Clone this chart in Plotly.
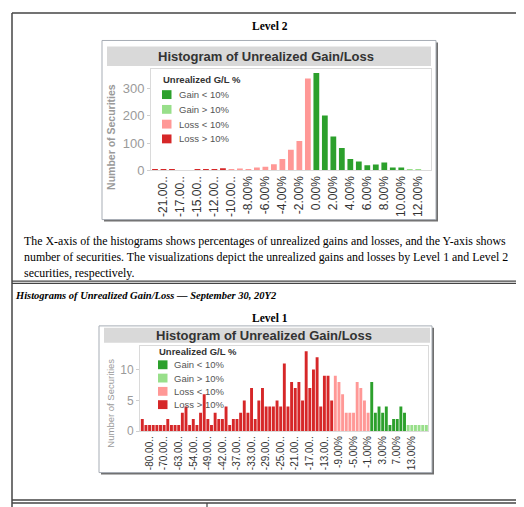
import plotly.graph_objects as go

W, H = 524, 507

# Level 2: unrealized gain/loss bins (%) and number of securities per bin
L2_BINS = [-22, -21, -18, -17, -16, -15, -13, -12, -11, -10, -9, -8, -7, -6, -5, -4,
           -3, -2, -1, 0, 1, 2, 3, 4, 5, 6, 7, 8, 9, 10, 11, 12]
L2_COUNTS = [4, 4, 4, 0, 0, 4, 4, 4, 8, 3, 7, 3, 11, 13, 23, 42,
             76, 108, 337, 357, 201, 124, 82, 42, 33, 19, 22, 29, 11, 11, 2, 2]
L2_TICKS = [-21, -17, -15, -12, -10, -8, -6, -4, -2, 0, 2, 4, 6, 8, 10, 12]
L2_YTICKS = [0, 100, 200, 300]

# Level 1
L1_BINS = [-88, -84, -80, -77, -74, -72, -70, -68, -66, -65, -63, -60, -58, -56,
           -54, -52, -51, -50, -49, -47, -45, -44, -42, -40, -39, -38,
           -37, -36, -35, -34, -33, -32, -31, -30, -29, -28, -27, -26, -25, -24,
           -23, -22, -21, -20, -19, -18, -17, -16, -15, -14, -13, -12, -11, -10,
           -9, -8, -7, -6, -5, -4, -3, -2, -1, 0, 1, 2, 3, 4, 5, 6, 7, 8, 9,
           11, 13, 15, 17, 20, 26]
L1_COUNTS = [2, 1, 1, 1, 1, 1, 1, 2, 1, 1, 1, 3, 4, 1,
             2, 1, 3, 6, 2, 1, 3, 2, 2, 4, 1, 2,
             2, 3, 5, 3, 7, 2, 5, 7, 4, 4, 4, 5, 4, 11,
             4, 8, 7, 8, 5, 13, 7, 10, 12, 4, 9, 9, 5, 9,
             8, 6, 3, 3, 3, 8, 7, 5, 3, 8, 3, 4, 3, 4, 1, 2, 2, 4, 3,
             1, 1, 1, 1, 1, 1]
L1_TICKS = [-80, -70, -63, -54, -49, -42, -37, -33, -29, -25, -21, -17, -13,
            -9, -5, -1, 3, 7, 13]
L1_YTICKS = [0, 5, 10]

GROUPS = ["Gain < 10%", "Gain > 10%", "Loss < 10%", "Loss > 10%"]
COLORS = {"Gain < 10%": "#2ca02c", "Gain > 10%": "#98df8a",
          "Loss < 10%": "#ff9896", "Loss > 10%": "#d62728"}

SERIF = "Liberation Serif"
SANS = "Liberation Sans"


def px_x(x):
    return x / W


def px_y(y):
    return 1 - y / H


def group_of(b):
    if b < -10:
        return "Loss > 10%"
    if b < 0:
        return "Loss < 10%"
    if b <= 10:
        return "Gain < 10%"
    return "Gain > 10%"


def bin_label(b):
    return f"{b:.2f}%"


def tick_label(b):
    s = bin_label(b)
    return s if len(s) <= 6 else s[:6] + ".."


def rect(x0, y0, x1, y1, **kw):
    d = dict(type="rect", xref="paper", yref="paper",
             x0=px_x(x0), x1=px_x(x1), y0=px_y(y1), y1=px_y(y0), layer="below")
    d.update(kw)
    return d


def line(x0, y0, x1, y1, color="#444", width=1.2):
    return dict(type="line", xref="paper", yref="paper",
                x0=px_x(x0), x1=px_x(x1), y0=px_y(y0), y1=px_y(y1),
                line=dict(color=color, width=width))


def text(x, y, s, size, color="#000", family=SANS, xanchor="center", angle=0, bold=False, italic=False):
    if bold:
        s = f"<b>{s}</b>"
    if italic:
        s = f"<i>{s}</i>"
    return dict(x=px_x(x), y=px_y(y), xref="paper", yref="paper", text=s, showarrow=False,
                xanchor=xanchor, yanchor="middle", textangle=angle,
                font=dict(size=size, color=color, family=family))


fig = go.Figure()
shapes = []
annotations = []

# chart boxes: outer frame, grey title strip, plot area (pixels)
box2 = dict(box=(94, 33, 428, 215), bar=(99, 39, 423, 59), plot=(143, 62, 423, 165))
box1 = dict(box=(91, 323, 424, 472), bar=(96, 325, 422, 340), plot=(132, 343, 420, 430))

for b in (box2, box1):
    x0, y0, x1, y1 = b["box"]
    shapes.append(rect(x0 + 2, y0 + 2, x1 + 2, y1 + 2, fillcolor="#6f6f6f", line=dict(width=0)))
    shapes.append(rect(x0, y0, x1, y1, fillcolor="white", line=dict(color="#a7adb5", width=1)))
    bx0, by0, bx1, by1 = b["bar"]
    shapes.append(rect(bx0, by0, bx1, by1, fillcolor="#d9d9d9", line=dict(width=0)))
    annotations.append(text((bx0 + bx1) / 2 - 3, (by0 + by1) / 2, "Histogram of Unrealized Gain/Loss",
                            13, color="#333", bold=True))

# bars
fig.add_trace(go.Bar(x=[bin_label(b) for b in L2_BINS], y=L2_COUNTS, width=0.68,
                     marker=dict(color=[COLORS[group_of(b)] for b in L2_BINS], line=dict(width=0)),
                     xaxis="x", yaxis="y", showlegend=False))
fig.add_trace(go.Bar(x=[bin_label(b) for b in L1_BINS], y=L1_COUNTS, width=0.8,
                     marker=dict(color=[COLORS[group_of(b)] for b in L1_BINS], line=dict(width=0)),
                     xaxis="x2", yaxis="y2", showlegend=False))


def axes(b, nbins, left, right, ymax, ticks, yticks, xsize, ysize):
    x0, y0, x1, y1 = b["plot"]
    xa = dict(domain=[px_x(x0), px_x(x1)], type="category", range=[left, nbins - 1 + right],
              tickvals=[bin_label(t) for t in ticks], ticktext=[tick_label(t) for t in ticks],
              tickangle=-90, tickfont=dict(family=SANS, size=xsize, color="#333"),
              showline=True, mirror=True, linecolor="#dadada", linewidth=1,
              showgrid=False, ticks="", fixedrange=True)
    ya = dict(domain=[px_y(y1), px_y(y0)], range=[0, ymax], tickvals=yticks,
              tickfont=dict(family=SANS, size=ysize, color="#9a9a9a"),
              ticks="outside", ticklen=3, tickcolor="#cfcfcf",
              showline=True, mirror=True, linecolor="#dadada", linewidth=1,
              showgrid=False, zeroline=False, fixedrange=True)
    return xa, ya


xa, ya = axes(box2, len(L2_BINS), -0.47, 1.5, 372, L2_TICKS, L2_YTICKS, 12, 13)
xa2, ya2 = axes(box1, len(L1_BINS), -0.63, 0.45, 13.9, L1_TICKS, L1_YTICKS, 10, 12)
xa["anchor"], ya["anchor"] = "y", "x"
xa2["anchor"], ya2["anchor"] = "y2", "x2"

# y titles
annotations.append(text(103, 131, "Number of Securities", 10.5, color="#9a9a9a", angle=-90, bold=True))
annotations.append(text(103, 402, "Number of Securities", 9.5, color="#9a9a9a", angle=-90))

# legends
for lx, ly, step, tx in ((154, 73, 15, 169), (150, 349, 13.5, 164)):
    annotations.append(text(lx - 1, ly, "Unrealized G/L %", 9.5, color="#333", xanchor="left", bold=True))
    for i, g in enumerate(GROUPS):
        cy = ly + step * (i + 1)
        shapes.append(dict(type="rect", xref="paper", yref="paper", x0=px_x(lx), x1=px_x(lx + 9.5),
                           y0=px_y(cy + 4.5), y1=px_y(cy - 4.5), fillcolor=COLORS[g], line=dict(width=0)))
        annotations.append(text(tx, cy, g, 9.5, color="#555", xanchor="left"))

# document text
annotations.append(text(262, 18, "Level 2", 11.5, family=SERIF, bold=True))
para = ["The X-axis of the histograms shows percentages of unrealized gains and losses, and the Y-axis shows",
        "number of securities. The visualizations depict the unrealized gains and losses by Level 1 and Level 2",
        "securities, respectively."]
for i, s in enumerate(para):
    annotations.append(text(14, 237 + 16 * i, s, 11.9, family=SERIF, xanchor="left"))
annotations.append(text(5, 292, "Histograms of Unrealized Gain/Loss \u2014 September 30, 20Y2", 10.5,
                        family=SERIF, xanchor="left", bold=True, italic=True))
annotations.append(text(262, 315, "Level 1", 11.5, family=SERIF, bold=True))

# page frame lines
shapes += [
    line(4, 5, 524, 5, width=1.5),
    line(4, 5, 4, 507, width=1.5),
    line(512, 5, 512, 500, width=1.5),
    line(4, 277.5, 524, 277.5),
    line(4, 279.8, 524, 279.8),
    line(4, 500, 524, 500, width=1.5),
    line(4, 503, 524, 503, width=1.5),
    line(199, 503, 199, 507),
]

fig.update_layout(width=W, height=H, margin=dict(l=0, r=0, t=0, b=0),
                  paper_bgcolor="white", plot_bgcolor="white", showlegend=False,
                  xaxis=xa, yaxis=ya, xaxis2=xa2, yaxis2=ya2,
                  shapes=shapes, annotations=annotations)

fig.write_html("out.html")
